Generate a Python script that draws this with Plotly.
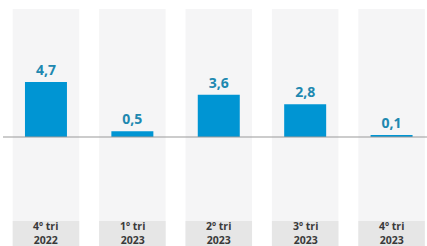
import plotly.graph_objects as go

categories = ["4º tri<br>2022", "1º tri<br>2023", "2º tri<br>2023", "3º tri<br>2023", "4º tri<br>2023"]
values = [4.7, 0.5, 3.6, 2.8, 0.1]
value_labels = ["4,7", "0,5", "3,6", "2,8", "0,1"]

x = list(range(len(categories)))
Y_TOP = 11.71
Y_BOT = -9.32
COL_TOP = 10.94
BOX_TOP = -7.18

fig = go.Figure()
# background columns
fig.add_trace(go.Bar(x=x, y=[COL_TOP - Y_BOT] * len(x), base=[Y_BOT] * len(x),
                     width=0.77, marker=dict(color="#f5f5f6", line_width=0),
                     hoverinfo="skip", showlegend=False))
# label boxes
fig.add_trace(go.Bar(x=x, y=[BOX_TOP - Y_BOT] * len(x), base=[Y_BOT] * len(x),
                     width=0.77, marker=dict(color="#e6e6e6", line_width=0),
                     hoverinfo="skip", showlegend=False))
# value bars
fig.add_trace(go.Bar(x=x, y=values, width=0.486,
                     marker=dict(color="#0095d3", line_width=0),
                     text=[f"<b>{v}</b>" for v in value_labels], textposition="outside",
                     cliponaxis=False,
                     textfont=dict(family="Open Sans", size=14, color="#2088b0"),
                     showlegend=False))

for xi, c in zip(x, categories):
    fig.add_annotation(x=xi, y=(BOX_TOP + Y_BOT) / 2 + 0.08, xref="x", yref="y",
                       text=f"<b>{c}</b>", showarrow=False,
                       font=dict(family="Open Sans", size=10.5, color="#3a3a3a"),
                       align="center")

fig.add_shape(type="line", xref="paper", yref="y", x0=0.007, x1=1, y0=0, y1=0,
              line=dict(color="#9a9a9a", width=1.2))

fig.update_layout(
    width=427, height=246, margin=dict(l=0, r=0, t=0, b=0),
    paper_bgcolor="white", plot_bgcolor="white",
    barmode="overlay",
    xaxis=dict(range=[-0.532, 4.41], visible=False, fixedrange=True),
    yaxis=dict(range=[Y_BOT, Y_TOP], visible=False, fixedrange=True),
)
fig.write_html("out.html", config={"displayModeBar": False},
               post_script="document.body.style.margin='0';document.body.style.overflow='hidden';")
